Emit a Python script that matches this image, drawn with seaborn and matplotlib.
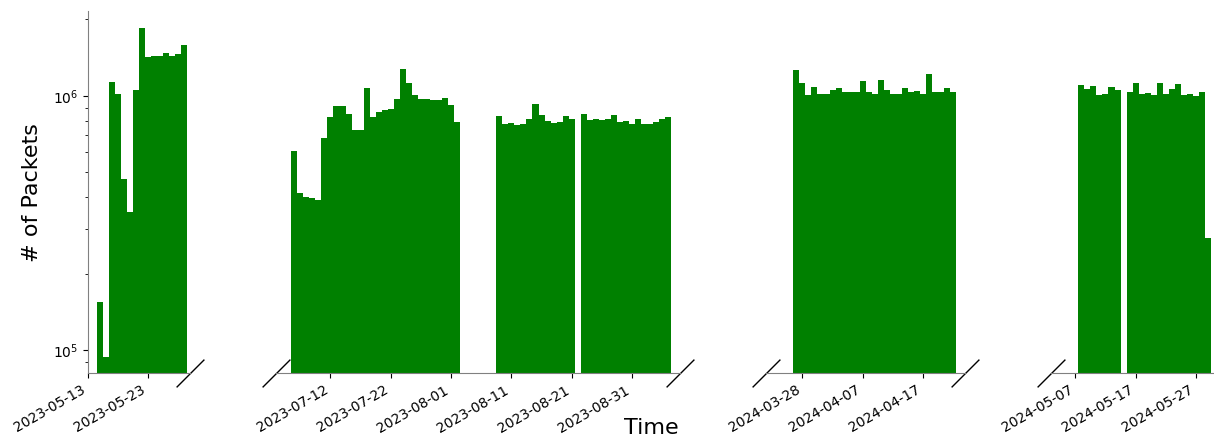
#!/usr/bin/env python3

import matplotlib

matplotlib.use("Agg")
import matplotlib.pyplot as plt
import matplotlib.dates as mdates
from matplotlib.ticker import MultipleLocator
import pandas as pd
import seaborn as sns

# daily packet counts, one list per run of consecutive days
may23_start = "2023-05-15"
may23_packets = [155e3, 94e3, 1.13e6, 1.02e6, 471e3, 348e3, 1.06e6, 1.85e6,
                 1.43e6, 1.44e6, 1.44e6, 1.48e6, 1.44e6, 1.46e6, 1.59e6]

jul23_start = "2023-07-06"
jul23_packets = [607e3, 415e3, 400e3, 396e3, 390e3, 684e3, 827e3, 913e3,
                 913e3, 850e3, 735e3, 735e3, 1.075e6, 827e3, 865e3, 881e3,
                 889e3, 973e3, 1.28e6, 1.125e6, 1.009e6, 973e3, 973e3, 964e3,
                 964e3, 982e3, 922e3, 790e3]

aug23a_start = "2023-08-09"
aug23a_packets = [834e3, 776e3, 783e3, 769e3, 776e3, 812e3, 930e3, 841e3,
                  798e3, 783e3, 790e3, 834e3, 812e3]

aug23b_start = "2023-08-23"
aug23b_packets = [849e3, 805e3, 812e3, 805e3, 812e3, 841e3, 790e3, 798e3,
                  776e3, 812e3, 776e3, 776e3, 790e3, 812e3, 827e3]

mar24_start = "2024-03-27"
mar24_packets = [1.266e6, 1.125e6, 1.009e6, 1.084e6, 1.018e6, 1.018e6, 1.056e6,
                 1.075e6, 1.037e6, 1.037e6, 1.037e6, 1.146e6, 1.037e6, 1.018e6,
                 1.156e6, 1.056e6, 1.018e6, 1.018e6, 1.075e6, 1.037e6, 1.046e6,
                 1.018e6, 1.221e6, 1.037e6, 1.037e6, 1.075e6, 1.037e6]

may24a_start = "2024-05-08"
may24a_packets = [1.105e6, 1.066e6, 1.095e6, 1.009e6, 1.018e6, 1.084e6, 1.056e6]

may24b_start = "2024-05-16"
may24b_packets = [1.037e6, 1.125e6, 1.018e6, 1.028e6, 1.009e6, 1.125e6, 1.018e6,
                  1.066e6, 1.115e6, 1.009e6, 1.018e6, 1.0e6, 1.037e6, 276e3]

runs = [
    (may23_start, may23_packets),
    (jul23_start, jul23_packets),
    (aug23a_start, aug23a_packets),
    (aug23b_start, aug23b_packets),
    (mar24_start, mar24_packets),
    (may24a_start, may24a_packets),
    (may24b_start, may24b_packets),
]

# visible date window of each broken-axis panel
panels = [
    ("2023-05-13", "2023-05-30"),
    ("2023-07-03", "2023-09-08"),
    ("2024-03-22", "2024-04-24"),
    ("2024-05-03", "2024-05-30"),
]

frames = []
for start, vals in runs:
    days = pd.date_range(start, periods=len(vals), freq="D")
    frames.append(pd.DataFrame({"day": mdates.date2num(days), "packets": vals}))
df = pd.concat(frames, ignore_index=True)

W, H = 1214, 438
fig = plt.figure(figsize=(W / 100, H / 100), dpi=100)

px_per_day = 6.03
gap = 86
left = 87.7
bottom = 64.7 / H
height = (373.3 - 11.0) / H

brk = dict(marker=[(-1, -1), (1, 1)], markersize=20, linestyle="none",
           color="k", mec="k", mew=1, clip_on=False)

axes = []
for i, (lo, hi) in enumerate(panels):
    lo_n = mdates.date2num(pd.Timestamp(lo))
    hi_n = mdates.date2num(pd.Timestamp(hi))
    width = (hi_n - lo_n) * px_per_day
    ax = fig.add_axes([left / W, bottom, width / W, height])
    left += width + gap

    sub = df[(df["day"] >= lo_n) & (df["day"] <= hi_n)]
    sns.histplot(sub, x="day", weights="packets", discrete=True,
                 color="green", alpha=1, linewidth=0, ax=ax)
    ax.set_yscale("log")
    ax.set_ylim(8.1e4, 2.16e6)
    ax.set_xlim(lo_n, hi_n)
    ax.set_xlabel("")
    ax.set_ylabel("")

    ax.xaxis.set_major_locator(MultipleLocator(10))
    ax.xaxis.set_major_formatter(mdates.DateFormatter("%Y-%m-%d"))
    plt.setp(ax.get_xticklabels(), rotation=30, ha="right")

    ax.spines["top"].set_visible(False)
    ax.spines["right"].set_visible(False)
    ax.spines["bottom"].set_color("gray")
    ax.spines["left"].set_color("gray")
    if i > 0:
        ax.spines["left"].set_visible(False)
        ax.tick_params(axis="y", which="both", left=False, labelleft=False)
        ax.plot([0], [0], transform=ax.transAxes, **brk)
    if i < len(panels) - 1:
        ax.plot([1], [0], transform=ax.transAxes, **brk)
    axes.append(ax)

axes[0].set_ylabel("# of Packets", fontsize=16, labelpad=8)
fig.text(651 / W, 0.0, "Time", ha="center", va="bottom", fontsize=16)

plt.savefig("out.png", dpi=100)
